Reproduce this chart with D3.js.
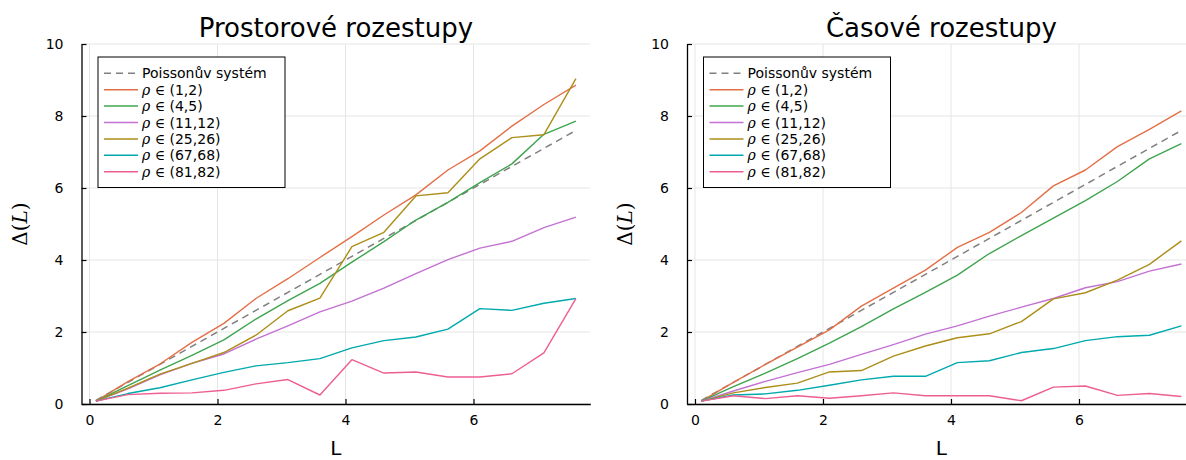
<!DOCTYPE html>
<html>
<head>
<meta charset="utf-8">
<script src="https://cdn.jsdelivr.net/npm/d3@7"></script>
<style>
  html, body { margin: 0; padding: 0; background: #fff; }
  svg { display: block; }
</style>
</head>
<body>
<svg id="chart" width="1186" height="460"></svg>
<script>
// Window length L
const L = [0.1, 0.6, 1.1, 1.6, 2.1, 2.6, 3.1, 3.6, 4.1, 4.6, 5.1, 5.6, 6.1, 6.6, 7.1, 7.6];

// Poisson reference: Δ(L) = L
const poisson = [0.1, 0.6, 1.1, 1.6, 2.1, 2.6, 3.1, 3.6, 4.1, 4.6, 5.1, 5.6, 6.1, 6.6, 7.1, 7.6];

// Spatial spacings (Prostorové rozestupy)
const spatial_1_2   = [0.08, 0.62, 1.11, 1.71, 2.24, 2.93, 3.48, 4.07, 4.65, 5.25, 5.81, 6.50, 7.03, 7.72, 8.32, 8.86];
const spatial_4_5   = [0.08, 0.51, 0.94, 1.35, 1.78, 2.36, 2.87, 3.35, 3.94, 4.51, 5.11, 5.60, 6.15, 6.67, 7.49, 7.86];
const spatial_11_12 = [0.08, 0.42, 0.81, 1.13, 1.39, 1.80, 2.17, 2.56, 2.86, 3.22, 3.62, 4.01, 4.33, 4.52, 4.90, 5.19];
const spatial_25_26 = [0.08, 0.44, 0.83, 1.13, 1.43, 1.91, 2.59, 2.94, 4.37, 4.77, 5.78, 5.87, 6.81, 7.40, 7.48, 9.04];
const spatial_67_68 = [0.08, 0.29, 0.45, 0.67, 0.88, 1.06, 1.15, 1.26, 1.56, 1.76, 1.86, 2.08, 2.65, 2.60, 2.80, 2.93];
const spatial_81_82 = [0.08, 0.26, 0.30, 0.31, 0.38, 0.56, 0.68, 0.25, 1.23, 0.86, 0.89, 0.75, 0.75, 0.84, 1.42, 2.93];

// Temporal spacings (Časové rozestupy)
const temporal_1_2   = [0.08, 0.60, 1.10, 1.58, 2.06, 2.72, 3.22, 3.72, 4.35, 4.77, 5.32, 6.06, 6.50, 7.15, 7.63, 8.14];
const temporal_4_5   = [0.08, 0.48, 0.86, 1.26, 1.69, 2.15, 2.64, 3.10, 3.58, 4.18, 4.68, 5.16, 5.65, 6.18, 6.81, 7.23];
const temporal_11_12 = [0.08, 0.36, 0.63, 0.87, 1.10, 1.38, 1.65, 1.94, 2.17, 2.44, 2.69, 2.93, 3.23, 3.40, 3.69, 3.89];
const temporal_25_26 = [0.08, 0.31, 0.46, 0.58, 0.89, 0.93, 1.33, 1.61, 1.84, 1.95, 2.29, 2.92, 3.09, 3.44, 3.88, 4.53];
const temporal_67_68 = [0.08, 0.25, 0.28, 0.38, 0.52, 0.67, 0.77, 0.77, 1.15, 1.20, 1.43, 1.54, 1.76, 1.87, 1.91, 2.17];
const temporal_81_82 = [0.08, 0.23, 0.15, 0.23, 0.16, 0.23, 0.31, 0.23, 0.23, 0.23, 0.09, 0.47, 0.50, 0.24, 0.29, 0.21];

// Series labels (interval of ρ) and colours
const rhoLabels = ["(1,2)", "(4,5)", "(11,12)", "(25,26)", "(67,68)", "(81,82)"];
const seriesColors = ["#E36F47", "#3EA44E", "#C371D2", "#AC8E18", "#00A9AD", "#ED5E93"];
const poissonLabel = "Poissonův systém";

// Axis ticks
const xTicks = [0, 2, 4, 6];
const yTicks = [0, 2, 4, 6, 8, 10];

const panels = [
  { title: "Prostorové rozestupy", left: 81.5, right: 590.3,
    series: [spatial_1_2, spatial_4_5, spatial_11_12, spatial_25_26, spatial_67_68, spatial_81_82] },
  { title: "Časové rozestupy", left: 687, right: 1195.8,
    series: [temporal_1_2, temporal_4_5, temporal_11_12, temporal_25_26, temporal_67_68, temporal_81_82] }
];

const svg = d3.select("#chart");
const plotTop = 44, plotBottom = 404;
const sans = "'DejaVu Sans', sans-serif";
const serif = "'DejaVu Serif', serif";

panels.forEach((p, pi) => {
  const x = d3.scaleLinear().domain([-0.125, 7.825]).range([p.left, p.right]);
  const y = d3.scaleLinear().domain([0, 10]).range([plotBottom, plotTop]);
  const g = svg.append("g");

  const clipId = "clip" + pi;
  svg.append("clipPath").attr("id", clipId)
    .append("rect").attr("x", p.left).attr("y", plotTop - 2)
    .attr("width", p.right - p.left).attr("height", plotBottom - plotTop + 4);

  // grid
  g.append("g").selectAll("line").data(xTicks).join("line")
    .attr("x1", d => x(d)).attr("x2", d => x(d))
    .attr("y1", plotTop).attr("y2", plotBottom)
    .attr("stroke", "#e5e5e5").attr("stroke-width", 1);
  g.append("g").selectAll("line").data(yTicks).join("line")
    .attr("x1", p.left).attr("x2", p.right)
    .attr("y1", d => y(d)).attr("y2", d => y(d))
    .attr("stroke", "#e5e5e5").attr("stroke-width", 1);

  // axes
  const xAxis = d3.axisBottom(x).tickValues(xTicks).tickSizeInner(-5).tickSizeOuter(0).tickPadding(11).tickFormat(d3.format("d"));
  const gx = g.append("g").attr("transform", `translate(0,${plotBottom})`).call(xAxis);
  gx.select(".domain").attr("stroke", "#000").attr("stroke-width", 1.3);
  gx.selectAll(".tick line").attr("stroke", "#000").attr("stroke-width", 1.2);
  gx.selectAll("text").attr("font-family", sans).attr("font-size", 14).attr("fill", "#000");

  const yAxis = d3.axisLeft(y).tickValues(yTicks).tickSizeInner(-5).tickSizeOuter(0).tickPadding(18).tickFormat(d3.format("d"));
  const gy = g.append("g").attr("transform", `translate(${p.left},0)`).call(yAxis);
  gy.select(".domain").attr("stroke", "#000").attr("stroke-width", 1.3);
  gy.selectAll(".tick line").attr("stroke", "#000").attr("stroke-width", 1.2);
  gy.selectAll("text").attr("font-family", sans).attr("font-size", 14).attr("fill", "#000");

  // lines
  const line = d3.line().x((d, i) => x(L[i])).y(d => y(d));
  const lines = g.append("g").attr("clip-path", `url(#${clipId})`);
  lines.append("path").datum(poisson).attr("d", line)
    .attr("fill", "none").attr("stroke", "#808080").attr("stroke-width", 1.5)
    .attr("stroke-dasharray", "7,5");
  p.series.forEach((s, si) => {
    lines.append("path").datum(s).attr("d", line)
      .attr("fill", "none").attr("stroke", seriesColors[si]).attr("stroke-width", 1.4)
      .attr("stroke-linejoin", "round");
  });

  // title
  const cx = (p.left + p.right) / 2;
  g.append("text").attr("x", cx).attr("y", 37).attr("text-anchor", "middle")
    .attr("font-family", sans).attr("font-size", 26).attr("fill", "#000").text(p.title);

  // x label
  g.append("text").attr("x", cx).attr("y", 455).attr("text-anchor", "middle")
    .attr("font-family", sans).attr("font-size", 20).attr("fill", "#000").text("L");

  // y label Δ(L)
  const yl = g.append("text")
    .attr("transform", `translate(${p.left - 55},${(plotTop + plotBottom) / 2}) rotate(-90)`)
    .attr("text-anchor", "middle").attr("font-family", serif).attr("font-size", 20).attr("fill", "#000");
  yl.append("tspan").text("Δ(");
  yl.append("tspan").attr("font-style", "italic").text("L");
  yl.append("tspan").text(")");

  // legend
  const lx = p.left + 16.5, ly = 57;
  const lg = g.append("g");
  lg.append("rect").attr("x", lx).attr("y", ly).attr("width", 187).attr("height", 130.5)
    .attr("fill", "#fff").attr("stroke", "#000").attr("stroke-width", 1);
  const rowY = i => 73.3 + i * 16.4;
  const entries = [{ dash: true, color: "#808080" }].concat(seriesColors.map(c => ({ dash: false, color: c })));
  entries.forEach((e, i) => {
    lg.append("line").attr("x1", lx + 6).attr("x2", lx + 40)
      .attr("y1", rowY(i)).attr("y2", rowY(i))
      .attr("stroke", e.color).attr("stroke-width", 1.5)
      .attr("stroke-dasharray", e.dash ? "7,5" : null);
    const t = lg.append("text").attr("x", lx + 44).attr("y", rowY(i) + 5)
      .attr("font-family", sans).attr("font-size", 14).attr("fill", "#000");
    if (e.dash) {
      t.text(poissonLabel);
    } else {
      t.append("tspan").attr("font-family", serif).attr("font-style", "italic").text("ρ");
      t.append("tspan").attr("font-family", serif).text(" ∈ ");
      t.append("tspan").text(rhoLabels[i - 1]);
    }
  });
});
</script>
</body>
</html>
